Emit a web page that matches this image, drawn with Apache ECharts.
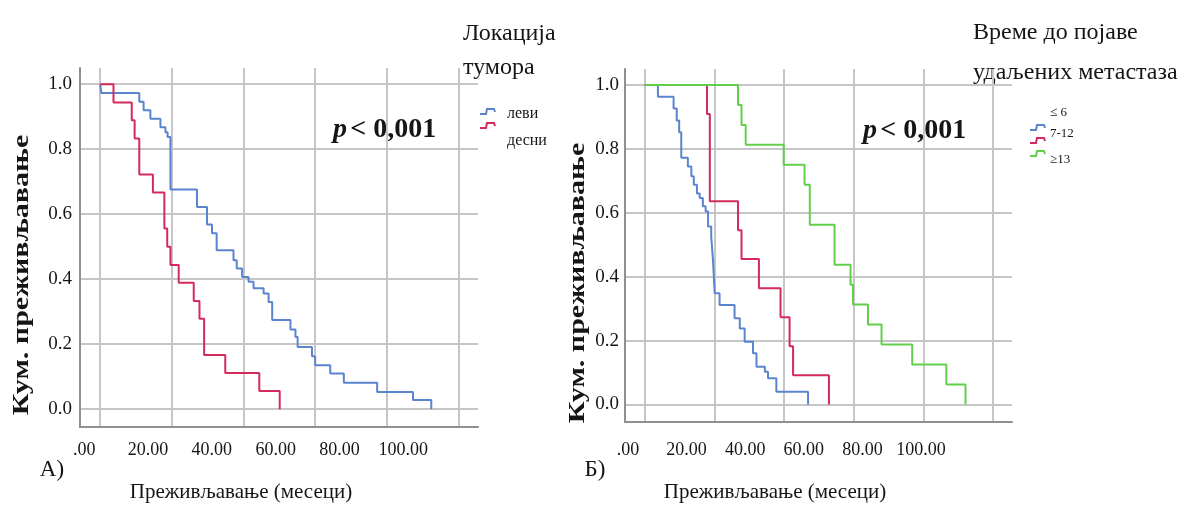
<!DOCTYPE html>
<html>
<head>
<meta charset="utf-8">
<script src="https://cdn.jsdelivr.net/npm/echarts@6/dist/echarts.min.js"></script>
<style>
  html, body { margin: 0; padding: 0; background: #ffffff; }
  #chart { width: 1193px; height: 512px; }
</style>
</head>
<body>
<div id="chart"></div>
<script>
// Kaplan–Meier curves: time of each step (months) and cumulative survival after it.

// Panel A — tumour location
const leftSideTimes = [0, 0.3, 10.9, 12.1, 14.0, 16.8, 18.2, 18.8, 19.6, 27.0, 29.8, 31.2, 32.5, 37.2, 38.1, 39.6, 41.4, 42.8, 45.6, 47.0, 48.0, 53.1, 54.5, 55.1, 59.1, 60.0, 64.2, 68.0, 77.3, 87.3, 92.4];
const leftSideSurv  = [1.0, 0.973, 0.946, 0.920, 0.894, 0.868, 0.852, 0.838, 0.676, 0.622, 0.568, 0.541, 0.489, 0.458, 0.433, 0.407, 0.392, 0.372, 0.356, 0.330, 0.274, 0.245, 0.222, 0.191, 0.163, 0.135, 0.110, 0.081, 0.053, 0.028, 0.0];

const rightSideTimes = [0, 3.7, 8.8, 9.6, 10.9, 14.7, 17.9, 18.7, 19.6, 21.9, 26.1, 27.7, 29.0, 34.9, 44.4, 50.1];
const rightSideSurv  = [1.0, 0.944, 0.889, 0.833, 0.722, 0.667, 0.556, 0.500, 0.444, 0.389, 0.333, 0.278, 0.167, 0.111, 0.056, 0.0];

// Panel B — time to distant metastases
const metEarlyTimes = [0, 3.8, 8.3, 9.2, 9.9, 10.5, 12.4, 13.4, 14.1, 15.0, 15.8, 16.7, 17.5, 18.2, 19.1, 19.6, 20.1, 21.5, 25.8, 27.3, 28.7, 31.1, 32.1, 34.5, 35.4, 37.8, 46.9];
const metEarlySurv  = [1.0, 0.963, 0.926, 0.889, 0.852, 0.772, 0.745, 0.714, 0.688, 0.660, 0.646, 0.620, 0.604, 0.557, 0.526, 0.453, 0.348, 0.311, 0.270, 0.238, 0.196, 0.160, 0.118, 0.102, 0.082, 0.040, 0.0];

const metMidTimes = [0, 17.9, 18.7, 26.8, 27.8, 32.8, 39.0, 41.6, 42.6, 52.9];
const metMidSurv  = [1.0, 0.909, 0.636, 0.545, 0.455, 0.364, 0.273, 0.182, 0.091, 0.0];

const metLateTimes = [0, 26.8, 27.8, 29.0, 39.9, 45.9, 47.4, 54.5, 59.1, 59.8, 64.1, 68.0, 76.8, 86.6, 92.1];
const metLateSurv  = [1.0, 0.9375, 0.875, 0.8125, 0.75, 0.6875, 0.5625, 0.4375, 0.375, 0.3125, 0.25, 0.1875, 0.125, 0.0625, 0.0];

// Tick values and labels
const xTicks = [0, 20, 40, 60, 80, 100];
const yTicks = [0, 0.2, 0.4, 0.6, 0.8, 1.0];
const locationGroups = ['леви', 'десни'];
const metastasisGroups = ['≤ 6', '7-12', '≥13'];

const BLUE = '#5b84cf';
const RED = '#d42a5c';
const GREEN = '#62cf4b';
const SERIF = '"Liberation Serif", "DejaVu Serif", serif';
const GRID_COLOR = '#c6c6c6';
const AXIS_COLOR = '#8f8f8f';
const INK = '#151515';

function zip(ts, ss) { return ts.map((t, i) => [t, ss[i]]); }

function xLabel(v) { return v === 0 ? '.00' : v.toFixed(2); }

function plotX(gridIndex) {
  return {
    type: 'value', gridIndex, min: -5.65, max: 105.45, position: 'bottom',
    axisLine: { show: true, onZero: false, lineStyle: { color: AXIS_COLOR, width: 2 } },
    axisTick: { show: false, customValues: xTicks },
    axisLabel: { show: false, customValues: xTicks },
    splitLine: { show: true, lineStyle: { color: GRID_COLOR, width: 2 } }
  };
}
// tick-label scale printed under each panel
function tickX(gridIndex, min, max, margin) {
  return {
    type: 'value', gridIndex, min, max, position: 'bottom',
    axisLine: { show: false, onZero: false },
    axisTick: { show: false },
    splitLine: { show: false },
    axisLabel: { customValues: xTicks, formatter: xLabel, margin, fontFamily: SERIF, fontSize: 18, color: INK }
  };
}
function plotY(gridIndex, margin) {
  return {
    type: 'value', gridIndex, min: -0.055, max: 1.05,
    axisLine: { show: true, onZero: false, lineStyle: { color: AXIS_COLOR, width: 2 } },
    axisTick: { show: false, customValues: yTicks },
    axisLabel: { customValues: yTicks, formatter: v => v.toFixed(1), margin, fontFamily: SERIF, fontSize: 19, color: INK },
    splitLine: { show: true, lineStyle: { color: GRID_COLOR, width: 2 } }
  };
}
function curve(name, xi, yi, data, color) {
  return {
    name, type: 'line', step: 'end', xAxisIndex: xi, yAxisIndex: yi, data,
    showSymbol: false, symbol: 'none', silent: true,
    lineStyle: { color, width: 2 }, itemStyle: { color }
  };
}

function text(x, y, str, size, opts) {
  opts = opts || {};
  return {
    type: 'text', x, y, rotation: opts.rotation || 0, scaleX: opts.scaleX || 1, scaleY: 1,
    style: {
      text: str, fill: INK, font: (opts.bold ? 'bold ' : '') + size + 'px ' + SERIF,
      textAlign: opts.align || 'left', textVerticalAlign: 'middle'
    }
  };
}
function swatch(x, y, color) {
  return {
    type: 'polyline',
    shape: { points: [[x, y + 3], [x + 6, y + 3], [x + 7, y - 2], [x + 14, y - 2], [x + 15, y + 1]] },
    style: { stroke: color, lineWidth: 2, fill: null }
  };
}
function pValue(x, y) {
  return {
    type: 'text', x, y,
    style: {
      text: '{i|p} {b|< 0,001}', textVerticalAlign: 'middle', textAlign: 'left',
      rich: {
        i: { font: 'italic bold 28px ' + SERIF, fill: INK },
        b: { font: 'bold 28px ' + SERIF, fill: INK }
      }
    }
  };
}

const chart = echarts.init(document.getElementById('chart'), null, { renderer: 'canvas' });

chart.setOption({
  animation: false,
  backgroundColor: '#ffffff',
  grid: [
    { left: 80, top: 68, width: 398, height: 359 },
    { left: 625, top: 69, width: 387, height: 353 }
  ],
  xAxis: [
    plotX(0),
    tickX(0, -1.32, 123.4, 14),
    plotX(1),
    tickX(1, -1.02, 131.06, 19)
  ],
  yAxis: [plotY(0, 8), plotY(1, 6)],
  series: [
    curve(locationGroups[0], 0, 0, zip(leftSideTimes, leftSideSurv), BLUE),
    curve(locationGroups[1], 0, 0, zip(rightSideTimes, rightSideSurv), RED),
    curve(metastasisGroups[0], 2, 1, zip(metEarlyTimes, metEarlySurv), BLUE),
    curve(metastasisGroups[1], 2, 1, zip(metMidTimes, metMidSurv), RED),
    curve(metastasisGroups[2], 2, 1, zip(metLateTimes, metLateSurv), GREEN)
  ],
  graphic: [
    // axis titles
    text(22, 275, 'Кум. преживљавање', 24, { bold: true, rotation: Math.PI / 2, align: 'center', scaleX: 1.25 }),
    text(578, 283, 'Кум. преживљавање', 24, { bold: true, rotation: Math.PI / 2, align: 'center', scaleX: 1.25 }),
    text(241, 492, 'Преживљавање (месеци)', 21, { align: 'center' }),
    text(775, 492, 'Преживљавање (месеци)', 21, { align: 'center' }),
    text(52, 470, 'А)', 23, { align: 'center' }),
    text(595, 470, 'Б)', 23, { align: 'center' }),
    // log-rank result
    pValue(333, 130),
    pValue(863, 131),
    // legend, panel A
    text(463, 34, 'Локација', 24),
    text(463, 68, 'тумора', 24),
    swatch(480, 111, BLUE),
    swatch(480, 125, RED),
    text(507, 114, locationGroups[0], 16),
    text(507, 141, locationGroups[1], 16),
    // legend, panel B
    text(973, 33, 'Време до појаве', 24),
    text(973, 73, 'удаљених метастаза', 24),
    swatch(1030, 127, BLUE),
    swatch(1030, 140, RED),
    swatch(1030, 153, GREEN),
    text(1050, 113, metastasisGroups[0], 13),
    text(1050, 134, metastasisGroups[1], 13),
    text(1050, 160, metastasisGroups[2], 13)
  ]
});
</script>
</body>
</html>
